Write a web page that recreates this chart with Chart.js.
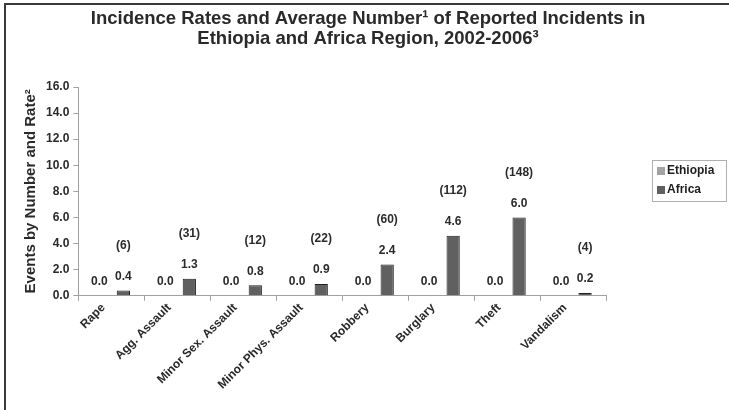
<!DOCTYPE html>
<html>
<head>
<meta charset="utf-8">
<script src="https://cdn.jsdelivr.net/npm/chart.js@4"></script>
<style>
  html, body { margin: 0; padding: 0; background: #fff; }
  #wrap { position: relative; width: 729px; height: 410px; }
  #frame { position: absolute; left: 4px; top: 3px; right: 0; bottom: 0; border-left: 2px solid #3a3a3a; border-top: 2px solid #3a3a3a; pointer-events: none; }
</style>
</head>
<body>
<div id="wrap">
  <canvas id="bar-chart" width="729" height="410"></canvas>
  <div id="frame"></div>
</div>
<script>
var categories = ["Rape", "Agg. Assault", "Minor Sex. Assault", "Minor Phys. Assault", "Robbery", "Burglary", "Theft", "Vandalism"];
var ethiopiaRates = [0, 0, 0, 0, 0, 0, 0, 0];
var africaRates = [0.4, 1.3, 0.8, 0.9, 2.4, 4.6, 6.0, 0.2];
var africaCounts = [6, 31, 12, 22, 60, 112, 148, 4];
var seriesNames = ["Ethiopia", "Africa"];
var seriesColors = ["#a3a3a3", "#606060"];
var titleLines = ["Incidence Rates and Average Number\u00b9 of Reported Incidents in", "Ethiopia and Africa Region, 2002-2006\u00b3"];

var fontFamily = "'Liberation Sans', Arial, sans-serif";
var labelFont = "bold 12px " + fontFamily;

// title centred on the whole picture, not on the plot
var pageTitle = {
  id: 'pageTitle',
  afterDraw: function (chart) {
    var ctx = chart.ctx;
    ctx.save();
    ctx.font = "bold 18.5px " + fontFamily;
    ctx.fillStyle = "#2a2a2a";
    ctx.textAlign = "center";
    ctx.textBaseline = "middle";
    titleLines.forEach(function (line, i) {
      ctx.fillText(line, 368, 19 + i * 20);
    });
    ctx.restore();
  }
};

// value labels above bars, plus the counts above the Africa bars
var barLabels = {
  id: 'barLabels',
  afterDatasetsDraw: function (chart) {
    var ctx = chart.ctx;
    ctx.save();
    ctx.font = labelFont;
    ctx.fillStyle = "#2b2b2b";
    ctx.textAlign = "center";
    ctx.textBaseline = "middle";
    chart.data.datasets.forEach(function (ds, i) {
      chart.getDatasetMeta(i).data.forEach(function (bar, j) {
        ctx.fillText(ds.data[j].toFixed(1), bar.x, bar.y - 14);
        if (i === 1) {
          ctx.fillText("(" + africaCounts[j] + ")", bar.x, bar.y - 45);
        }
      });
    });
    ctx.restore();
  }
};

// boxed legend on the right
var boxLegend = {
  id: 'boxLegend',
  afterDraw: function (chart) {
    var ctx = chart.ctx;
    ctx.save();
    ctx.strokeStyle = "#b0b0b0";
    ctx.lineWidth = 1;
    ctx.strokeRect(652.5, 160.5, 74, 41);
    ctx.font = labelFont;
    ctx.textBaseline = "middle";
    ctx.textAlign = "left";
    for (var i = 0; i < seriesNames.length; i++) {
      var y = 171 + i * 19;
      ctx.fillStyle = seriesColors[i];
      ctx.fillRect(657, y - 4, 8, 8);
      ctx.fillStyle = "#1e1e1e";
      ctx.fillText(seriesNames[i], 667, y);
    }
    ctx.restore();
  }
};

var ctx = document.getElementById('bar-chart').getContext('2d');
var myChart = new Chart(ctx, {
  type: 'bar',
  data: {
    labels: categories,
    datasets: [{
      label: seriesNames[0],
      data: ethiopiaRates,
      backgroundColor: seriesColors[0],
      borderWidth: 0
    }, {
      label: seriesNames[1],
      data: africaRates,
      backgroundColor: seriesColors[1],
      borderColor: "#1e1e1e",
      borderWidth: 1
    }]
  },
  plugins: [pageTitle, barLabels, boxLegend],
  options: {
    responsive: false,
    animation: false,
    categoryPercentage: 0.73,
    barPercentage: 0.55,
    layout: { padding: { left: 22, right: 123, top: 87, bottom: 18 } },
    plugins: {
      legend: { display: false },
      tooltip: { enabled: false },
      title: { display: false }
    },
    scales: {
      x: {
        grid: { drawOnChartArea: false, color: "#a0a0a0", tickLength: 5 },
        border: { color: "#a0a0a0" },
        ticks: {
          color: "#2a2a2a",
          maxRotation: 45,
          minRotation: 45,
          padding: 0,
          labelOffset: -8,
          font: { family: fontFamily, size: 12, weight: 'bold' }
        }
      },
      y: {
        min: 0,
        max: 16,
        grid: { drawOnChartArea: false, color: "#a0a0a0", tickLength: 5 },
        border: { color: "#a0a0a0" },
        ticks: {
          stepSize: 2,
          color: "#2a2a2a",
          padding: 4,
          font: { family: fontFamily, size: 12, weight: 'bold' },
          callback: function (v) { return Number(v).toFixed(1); }
        },
        title: {
          display: true,
          text: "Events by Number and Rate\u00b2",
          color: "#2a2a2a",
          padding: { top: 0, bottom: 2 },
          font: { family: fontFamily, size: 15, weight: 'bold' }
        }
      }
    }
  }
});
</script>
</body>
</html>
